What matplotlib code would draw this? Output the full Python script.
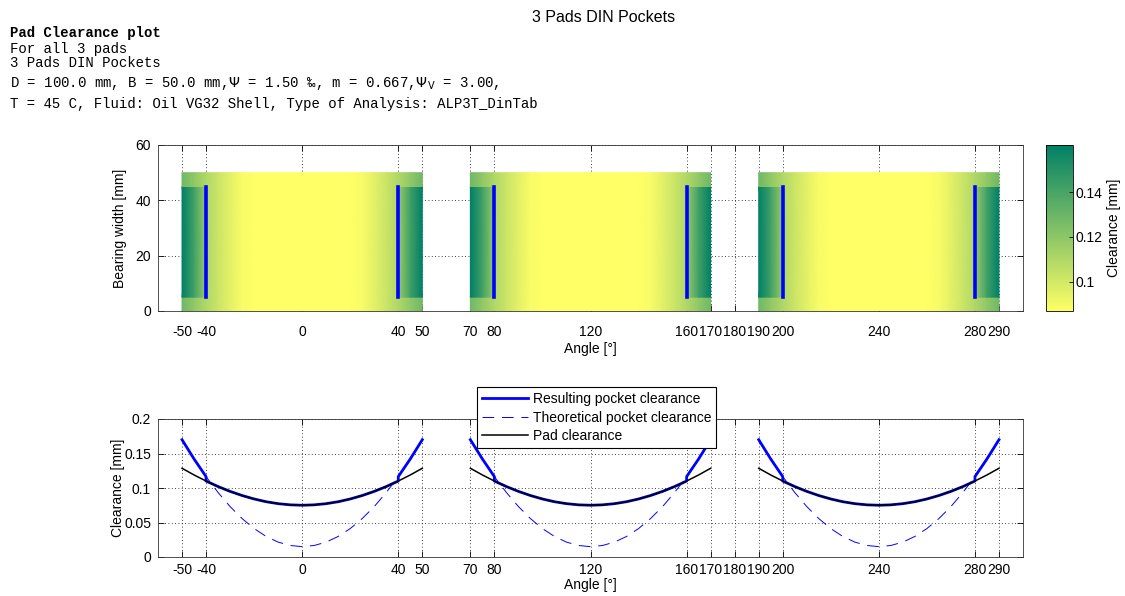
import numpy as np
import matplotlib
matplotlib.use("Agg")
import matplotlib.pyplot as plt

plt.rcParams['font.family'] = ['Liberation Sans', 'DejaVu Sans']

# ---- data ----
pad_centers = [0, 120, 240]
pad_half = 50
pocket_edge = 40
xticks = [-50, -40, 0, 40, 50, 70, 80, 120, 160, 170, 180, 190, 200, 240, 280, 290]

ang = [-50, -45, -40, -35, -30, -25, -20, -15, -10, -5, 0,
       5, 10, 15, 20, 25, 30, 35, 40, 45, 50]
pad_clear = [0.1286, 0.1189, 0.1101, 0.1021, 0.0951, 0.0891, 0.0841, 0.0801, 0.0773, 0.0756, 0.0750,
             0.0756, 0.0773, 0.0801, 0.0841, 0.0891, 0.0951, 0.1021, 0.1101, 0.1189, 0.1286]
theo_pocket = [0.1700, 0.1421, 0.1165, 0.0935, 0.0731, 0.0557, 0.0412, 0.0298, 0.0216, 0.0167, 0.0150,
               0.0167, 0.0216, 0.0298, 0.0412, 0.0557, 0.0731, 0.0935, 0.1165, 0.1421, 0.1700]
res_ang = [-50, -45, -40, -40, -35, -30, -25, -20, -15, -10, -5, 0,
           5, 10, 15, 20, 25, 30, 35, 40, 40, 45, 50]
res_clear = [0.1700, 0.1421, 0.1165, 0.1101, 0.1021, 0.0951, 0.0891, 0.0841, 0.0801, 0.0773, 0.0756, 0.0750,
             0.0756, 0.0773, 0.0801, 0.0841, 0.0891, 0.0951, 0.1021, 0.1101, 0.1165, 0.1421, 0.1700]

bearing_width = 50.0
pocket_y = [5.0, 45.0]
clim = (0.087, 0.161)

# ---- figure ----
fig = plt.figure(figsize=(11.25, 5.96), dpi=100)
W, H = 1125, 596

def ax_rect(x0, y0, x1, y1):
    return [x0 / W, 1 - y1 / H, (x1 - x0) / W, (y1 - y0) / H]

ax1 = fig.add_axes(ax_rect(158, 145, 1023, 311))
ax2 = fig.add_axes(ax_rect(158, 419, 1023, 557))
cax = fig.add_axes(ax_rect(1046, 145, 1073, 311))

FS = 10

# top: clearance map
res_ang_a = np.array(res_ang, dtype=float)
pad_on_grid = np.interp(res_ang_a, ang, pad_clear)
rows_y = [0.0, pocket_y[0], pocket_y[0], pocket_y[1], pocket_y[1], bearing_width]
mesh = None
for c in pad_centers:
    X = np.tile(res_ang_a + c, (len(rows_y), 1))
    Y = np.tile(np.array(rows_y)[:, None], (1, len(res_ang_a)))
    C = np.vstack([pad_on_grid, pad_on_grid, res_clear, res_clear, pad_on_grid, pad_on_grid])
    mesh = ax1.pcolormesh(X, Y, C, cmap='summer_r', shading='gouraud',
                          vmin=clim[0], vmax=clim[1], zorder=2)
    for s in (-1, 1):
        ax1.plot([c + s * pocket_edge] * 2, pocket_y, color='#0000FF', lw=2.6, zorder=3)

ax1.set_xlim(-60, 300)
ax1.set_ylim(0, 60)
ax1.set_yticks([0, 20, 40, 60])
ax1.set_ylabel('Bearing width [mm]', fontsize=FS, labelpad=6)
ax1.set_xlabel('Angle [°]', fontsize=FS, labelpad=2)

# bottom: clearance curves
for i, c in enumerate(pad_centers):
    a = np.array(ang) + c
    ra = res_ang_a + c
    ax2.plot(ra, res_clear, color='#0000FF', lw=2.0, zorder=3,
             label='Resulting pocket clearance' if i == 0 else None)
    ax2.plot(a, theo_pocket, color='#0000FF', lw=0.7, dashes=(12, 8), zorder=3,
             label='Theoretical pocket clearance' if i == 0 else None)
    ax2.plot(a, pad_clear, color='black', lw=1.1, zorder=4,
             label='Pad clearance' if i == 0 else None)

ax2.set_xlim(-60, 300)
ax2.set_ylim(0, 0.2)
ax2.set_yticks([0, 0.05, 0.1, 0.15, 0.2])
ax2.set_yticklabels(['0', '0.05', '0.1', '0.15', '0.2'])
ax2.set_ylabel('Clearance [mm]', fontsize=FS, labelpad=-1)
ax2.set_xlabel('Angle [°]', fontsize=FS, labelpad=1)
leg = ax2.legend(loc='upper left', bbox_to_anchor=((477 - 158) / (1023 - 158), 1 + (419 - 387) / 138),
                 fontsize=FS, frameon=True, fancybox=False, edgecolor='black', framealpha=1,
                 borderpad=0.35, labelspacing=0.34, handlelength=3.3, handletextpad=0.35,
                 borderaxespad=0)
leg.get_frame().set_linewidth(0.8)
leg.set_zorder(10)

for ax, xpad in ((ax1, 10), (ax2, 4)):
    ax.set_xticks(xticks)
    ax.set_xticklabels([str(t) for t in xticks])
    ax.tick_params(direction='in', length=4, width=0.6, top=True, right=True, labelsize=FS, pad=5,
                   colors='black')
    ax.tick_params(axis='x', pad=xpad)
    ax.grid(True, linestyle=(0, (1, 3)), color='black', lw=0.6, zorder=1)
    ax.set_axisbelow(True)
    for sp in ax.spines.values():
        sp.set_linewidth(0.6)
        sp.set_color('#333333')

cb = fig.colorbar(mesh, cax=cax)
cb.set_ticks([0.1, 0.12, 0.14])
cb.set_ticklabels(['0.1', '0.12', '0.14'])
cb.ax.tick_params(direction='in', length=3, width=0.6, labelsize=FS, pad=2)
cb.set_label('Clearance [mm]', fontsize=FS, labelpad=3)
cb.outline.set_linewidth(0.6)

# titles / header text
fig.text(604 / W, 1 - 18 / H, '3 Pads DIN Pockets', ha='center', va='center', fontsize=11.5)
mono = 'Liberation Mono'
MS = 10.1
fig.text(10 / W, 1 - 33 / H, 'Pad Clearance plot', family=mono, weight='bold', fontsize=MS, va='center')
fig.text(10 / W, 1 - 49 / H, 'For all 3 pads', family=mono, fontsize=MS, va='center')
fig.text(10 / W, 1 - 63 / H, '3 Pads DIN Pockets', family=mono, fontsize=MS, va='center')
fig.text(10 / W, 1 - 83 / H, 'D = 100.0 mm, B = 50.0 mm,$\\Psi$ = 1.50 ‰, m = 0.667,$\\Psi_{\\mathrm{V}}$ = 3.00,',
         family=[mono, 'DejaVu Sans'], fontsize=MS, va='center')
fig.text(10 / W, 1 - 104 / H, 'T = 45 C, Fluid: Oil VG32 Shell, Type of Analysis: ALP3T_DinTab',
         family=mono, fontsize=MS, va='center')

fig.savefig('out.png', dpi=100)
